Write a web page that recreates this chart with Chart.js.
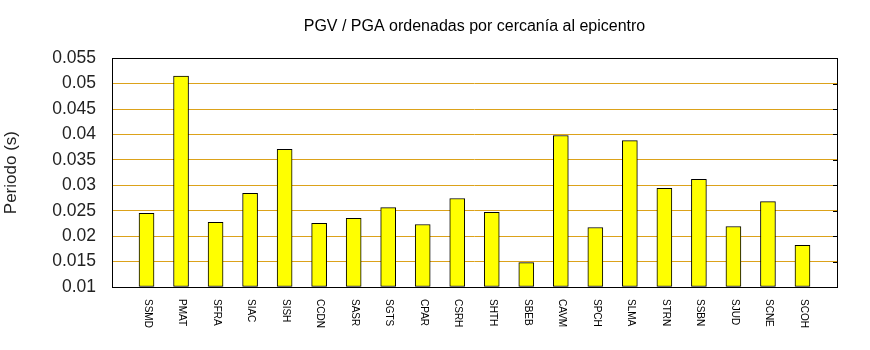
<!DOCTYPE html>
<html lang="es">
<head>
  <meta charset="UTF-8" />
  <title>PGV / PGA ordenadas por cercanía al epicentro</title>
  <style>
    html, body { margin: 0; padding: 0; background: #fff; }
    canvas { display: block; }
  </style>
</head>
<body>
  <canvas id="periodChart" width="870" height="350"></canvas>

  <script src="https://cdn.jsdelivr.net/npm/chart.js"></script>
  <script>
    // station codes, ordered by distance to the epicentre
    const stations = ["SSMD", "PMAT", "SFRA", "SIAC", "SISH", "CCDN", "SASR", "SGTS", "CPAR", "CSRH",
                      "SHTH", "SBEB", "CAVM", "SPCH", "SLMA", "STRN", "SSBN", "SJUD", "SCNE", "SCOH"];
    // period (s)
    const periods = [0.0245, 0.0515, 0.0227, 0.0284, 0.0371, 0.0225, 0.0235, 0.0256, 0.0223, 0.0274,
                     0.0247, 0.0148, 0.0398, 0.0217, 0.0388, 0.0294, 0.0312, 0.0219, 0.0268, 0.0182];
    const yMin = 0.01;
    const yMax = 0.055;
    const yStep = 0.005;

    const gold = '#dca21a';

    // frame round the plot, mirrored ticks on the right, and vertical station labels
    const framePlugin = {
      id: 'frame',
      afterDatasetsDraw(chart) {
        const { ctx, chartArea: a, scales } = chart;
        ctx.save();
        ctx.strokeStyle = '#000';
        ctx.lineWidth = 1;
        ctx.strokeRect(Math.round(a.left) + 0.5, Math.round(a.top) + 0.5,
                       Math.round(a.right - a.left), Math.round(a.bottom - a.top));
        // right side ticks
        scales.y.ticks.forEach(t => {
          const py = Math.round(scales.y.getPixelForValue(t.value)) + 0.5;
          ctx.beginPath();
          ctx.moveTo(a.right - 4, py);
          ctx.lineTo(a.right, py);
          ctx.stroke();
        });
        // x labels, rotated clockwise
        ctx.fillStyle = '#000';
        ctx.font = '10px "Liberation Sans", Arial, sans-serif';
        ctx.textAlign = 'left';
        ctx.textBaseline = 'middle';
        stations.forEach((s, i) => {
          const px = scales.x.getPixelForValue(i + 1);
          ctx.save();
          ctx.translate(px + 1, a.bottom + 12);
          ctx.rotate(Math.PI / 2);
          ctx.fillText(s, 0, 0);
          ctx.restore();
        });
        ctx.restore();
      }
    };

    new Chart(document.getElementById('periodChart'), {
      type: 'bar',
      data: {
        datasets: [{
          data: stations.map((s, i) => ({ x: i + 1, y: periods[i] })),
          base: yMin,
          backgroundColor: '#ffff00',
          borderColor: '#000',
          borderWidth: 1,
          borderSkipped: false,
          barThickness: 15
        }]
      },
      options: {
        responsive: false,
        animation: false,
        layout: { padding: { left: 0, right: 33, top: 0, bottom: 0 } },
        plugins: {
          legend: { display: false },
          tooltip: { enabled: false },
          title: {
            display: true,
            fullSize: false,
            text: 'PGV / PGA ordenadas por cercanía al epicentro',
            color: '#000',
            font: { family: '"Liberation Sans", Arial, sans-serif', size: 16, weight: 'normal' },
            padding: { top: 17, bottom: 22 }
          }
        },
        scales: {
          x: {
            type: 'linear',
            offset: false,
            min: 0,
            max: stations.length + 1,
            grid: { display: false },
            border: { display: false },
            ticks: { display: false },
            afterFit: scale => { scale.height = 63; }
          },
          y: {
            min: yMin,
            max: yMax,
            border: { display: false },
            grid: { color: gold, lineWidth: 1, drawTicks: false },
            ticks: {
              stepSize: yStep,
              padding: 16,
              color: '#222',
              font: { family: '"Liberation Sans", Arial, sans-serif', size: 17.5 },
              callback: v => String(Number(v.toFixed(3)))
            },
            title: {
              display: true,
              text: 'Periodo (s)',
              color: '#222',
              font: { family: '"Liberation Sans", Arial, sans-serif', size: 17 },
              padding: { top: 1, bottom: 0 }
            },
            afterFit: scale => { scale.width = 112; }
          }
        }
      },
      plugins: [framePlugin]
    });
  </script>
</body>
</html>
